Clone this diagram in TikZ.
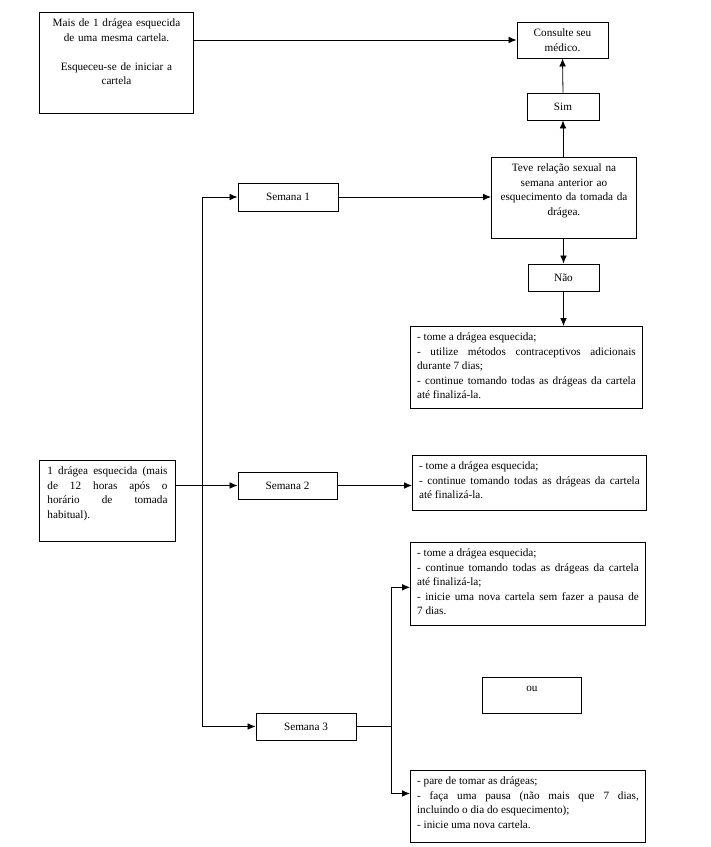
\documentclass[tikz,border=0pt]{standalone}
\usepackage{fontspec}
\setmainfont{Liberation Serif}
\usetikzlibrary{arrows.meta}

\begin{document}
\begin{tikzpicture}[x=0.75pt,y=-0.75pt,
  caixa/.style={draw, line width=0.7pt, font=\fontsize{8.4}{10.9}\selectfont, inner xsep=4pt, inner ysep=4.5pt},
  bloco/.style={caixa, anchor=north west, text height=6pt},
  lista/.style={bloco, align=justify, inner xsep=5pt},
  rotulo/.style={caixa, align=center},
  seta/.style={line width=0.6pt, -{Latex[length=6pt,width=5pt]}},
  linha/.style={line width=0.6pt}]
\useasboundingbox (0,0) rectangle (711,847);
%topo
\node[bloco, align=center, text width=107.5pt, text depth=60.75pt] (maisde) at (39,12)
  {Mais de 1 drágea esquecida\\ de uma mesma cartela.\\[10.9pt] Esqueceu-se de iniciar a\\ cartela};
\node[rotulo, minimum width=68.25pt, minimum height=27pt] (consulte) at (562.5,40) {Consulte seu\\ médico.};
\node[rotulo, minimum width=54pt, minimum height=20.25pt] (sim) at (563,106.5) {Sim};
\node[bloco, align=center, text width=100.75pt, text depth=45.75pt] (teve) at (491,157)
  {Teve relação sexual na\\ semana anterior ao\\ esquecimento da tomada da\\ drágea.};
\node[rotulo, minimum width=75pt, minimum height=21pt] (semana1) at (288,197) {Semana 1};
\node[rotulo, minimum width=53.25pt, minimum height=20.25pt] (nao) at (563.5,277.5) {Não};
\node[lista, text width=164pt, text depth=46.5pt] (n1) at (410,326)
  {- tome a drágea esquecida;\par
   - utilize métodos contraceptivos adicionais\linebreak durante 7 dias;\par
   - continue tomando todas as drágeas da cartela\linebreak até finalizá-la.};
%semana 2
\node[lista, inner xsep=6pt, text width=90pt, text depth=45.75pt] (esquecida) at (39,460)
  {1 drágea esquecida (mais\linebreak de 12 horas após o\linebreak horário de tomada\linebreak habitual).};
\node[rotulo, minimum width=74.25pt, minimum height=20.25pt] (semana2) at (287.5,485.5) {Semana 2};
\node[lista, text width=165.5pt, text depth=26.25pt] (n2) at (412,455)
  {- tome a drágea esquecida;\par
   - continue tomando todas as drágeas da cartela\linebreak até finalizá-la.};
%semana 3
\node[lista, text width=166.25pt, text depth=47.25pt] (n3a) at (410,542)
  {- tome a drágea esquecida;\par
   - continue tomando todas as drágeas da cartela\linebreak até finalizá-la;\par
   - inicie uma nova cartela sem fazer a pausa de\linebreak 7 dias.};
\node[bloco, align=center, text width=66.25pt, text depth=12pt] (ou) at (482,677) {ou};
\node[rotulo, minimum width=75pt, minimum height=20.25pt] (semana3) at (306,726.5) {Semana 3};
\node[lista, text width=166.25pt, text depth=39pt] (n3b) at (410,770)
  {- pare de tomar as drágeas;\par
   - faça uma pausa (não mais que 7 dias,\linebreak incluindo o dia do esquecimento);\par
   - inicie uma nova cartela.};

\coordinate (tronco) at (202,0);
\coordinate (ramo) at (391,0);

%conexoes
\draw[seta] (maisde.east |- consulte.west) -- (consulte.west);
\draw[seta] (sim.north) -- (consulte.south);
\draw[seta] (teve.north -| sim) -- (sim.south);
\draw[seta] (teve.south -| nao) -- (nao.north);
\draw[seta] (nao.south) -- (nao.south |- n1.north);
\draw[seta] (semana1.east) -- (semana1.east -| teve.west);

\draw[seta] (tronco |- semana3.west) |- (semana1.west);
\draw[seta] (tronco |- semana3.west) -- (semana3.west);
\draw[seta] (esquecida.east |- semana2.west) -- (semana2.west);
\draw[seta] (semana2.east) -- (semana2.east -| n2.west);

\draw[linha] (semana3.east) -- (ramo |- semana3.east);
\draw[seta] (ramo |- semana3.east) |- ([yshift=-2.5pt]n3a.west);
\draw[seta] (ramo |- semana3.east) |- ([yshift=9.75pt]n3b.west);
\end{tikzpicture}
\end{document}
